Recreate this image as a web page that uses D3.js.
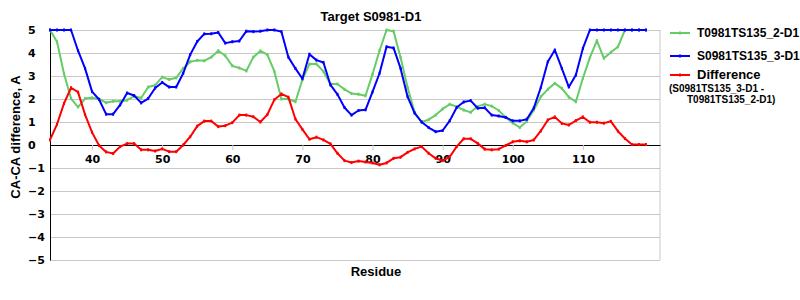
<!DOCTYPE html>
<html>
<head>
<meta charset="utf-8">
<script src="https://cdn.jsdelivr.net/npm/d3@7"></script>
<style>
  body { margin: 0; background: #fff; }
  .tick text { font-family: "DejaVu Sans", sans-serif; font-weight: bold; font-size: 11px; fill: #000; }
  .ttl { font-family: "Liberation Sans", Arial, sans-serif; font-weight: bold; fill: #000; }
</style>
</head>
<body>
<svg id="chart" width="800" height="300"></svg>
<script>
// residues 34..119
var residues = d3.range(34, 120);

var modelA = [5.0, 4.49, 3.1, 2.02, 1.65, 2.02, 2.05, 2.0, 1.84, 1.9,
  1.9, 1.95, 2.12, 2.04, 2.52, 2.6, 2.95, 2.85, 2.92, 3.33,
  3.62, 3.68, 3.66, 3.82, 4.1, 3.88, 3.44, 3.35, 3.22, 3.82,
  4.09, 3.93, 3.2, 2.0, 2.0, 1.88, 2.84, 3.52, 3.52, 3.2,
  2.65, 2.65, 2.42, 2.24, 2.21, 2.14, 3.08, 4.11, 5.0, 4.95,
  3.8, 2.5, 1.42, 1.0, 1.1, 1.3, 1.57, 1.77, 1.67, 1.52,
  1.42, 1.68, 1.77, 1.69, 1.5, 1.2, 0.96, 0.76, 1.03, 1.52,
  2.1, 2.42, 2.68, 2.46, 2.08, 1.88, 2.9, 3.8, 4.54, 3.77,
  4.03, 4.27, 5.0, 5.0, 5.0, 5.0];

var modelB = [5.0, 5.0, 5.0, 5.0, 4.1, 3.33, 2.32, 1.98, 1.34, 1.34,
  1.74, 2.26, 2.15, 1.83, 2.02, 2.48, 2.72, 2.52, 2.52, 3.12,
  3.93, 4.5, 4.83, 4.84, 4.89, 4.43, 4.49, 4.52, 4.95, 4.93,
  4.95, 5.0, 5.0, 4.93, 3.82, 3.33, 2.88, 3.95, 3.69, 3.59,
  2.61, 2.2, 1.63, 1.3, 1.5, 1.53, 2.31, 3.12, 4.27, 4.22,
  3.33, 2.1, 1.39, 1.0, 0.76, 0.58, 0.63, 1.05, 1.63, 1.87,
  1.93, 1.6, 1.62, 1.3, 1.26, 1.2, 1.05, 1.05, 1.12, 1.61,
  2.5, 3.62, 4.13, 3.33, 2.52, 3.04, 4.2, 5.0, 5.0, 5.0,
  5.0, 5.0, 5.0, 5.0, 5.0, 5.0];

var diffValues = [0.22, 0.9, 1.81, 2.49, 2.3, 1.32, 0.55, -0.02, -0.3, -0.37,
  -0.07, 0.06, 0.06, -0.21, -0.21, -0.26, -0.17, -0.29, -0.29, 0.0,
  0.36, 0.82, 1.04, 1.04, 0.8, 0.84, 0.97, 1.3, 1.3, 1.23,
  1.0, 1.32, 1.97, 2.22, 2.08, 1.13, 0.68, 0.25, 0.34, 0.22,
  0.05, -0.36, -0.68, -0.76, -0.7, -0.74, -0.78, -0.86, -0.78, -0.58,
  -0.53, -0.32, -0.17, -0.07, -0.36, -0.58, -0.68, -0.52, -0.07, 0.27,
  0.27, 0.07, -0.18, -0.21, -0.18, -0.02, 0.14, 0.18, 0.14, 0.22,
  0.61, 1.09, 1.22, 0.94, 0.87, 1.06, 1.22, 0.99, 0.99, 0.95,
  1.03, 0.6, 0.28, 0.02, 0.02, 0.02];

var xTicks = [40, 50, 60, 70, 80, 90, 100, 110];
var yTicks = [-5, -4, -3, -2, -1, 0, 1, 2, 3, 4, 5];

var seriesNames = ["T0981TS135_2-D1", "S0981TS135_3-D1", "Difference"];
var seriesColors = ["#66cc66", "#0000ff", "#ff0000"];

var plotLeft = 50, plotRight = 660, plotTop = 30, plotBottom = 260;

var x = d3.scaleLinear().domain([34, 121]).range([plotLeft, plotRight]);
var y = d3.scaleLinear().domain([-5, 5]).range([plotBottom, plotTop]);

var svg = d3.select("#chart");

// grid
var grid = svg.append("g")
    .attr("transform", "translate(" + plotLeft + ",0)")
    .call(d3.axisLeft(y).tickValues(yTicks).tickSize(-(plotRight - plotLeft)).tickFormat(""));
grid.select(".domain").remove();
grid.selectAll("line").attr("stroke", "#c8c8c8");

svg.append("line")
    .attr("x1", plotRight).attr("x2", plotRight)
    .attr("y1", plotTop).attr("y2", plotBottom)
    .attr("stroke", "#c8c8c8");

// y labels
var yAxis = svg.append("g")
    .attr("transform", "translate(" + plotLeft + ",0)")
    .call(d3.axisLeft(y).tickValues(yTicks).tickSize(0).tickSizeOuter(0));
yAxis.select(".domain").attr("stroke", "#000");
yAxis.selectAll("text")
    .attr("x", -22)
    .attr("text-anchor", "start");

// x axis on zero line
var xAxis = svg.append("g")
    .attr("transform", "translate(0," + y(0) + ")")
    .call(d3.axisBottom(x).tickValues(xTicks).tickSize(5).tickSizeOuter(0).tickPadding(5));
xAxis.select(".domain").attr("stroke", "#000");
xAxis.selectAll(".tick line").attr("stroke", "#c8c8c8");

var all = [modelA, modelB, diffValues];

var line = d3.line()
    .x(function(d, i) { return x(residues[i]); })
    .y(function(d) { return y(d); });

all.forEach(function(vals, k) {
    svg.append("path")
        .datum(vals)
        .attr("fill", "none")
        .attr("stroke", seriesColors[k])
        .attr("stroke-width", 2)
        .attr("stroke-linejoin", "round")
        .attr("d", line);

    svg.append("g").selectAll("rect")
        .data(vals)
        .enter().append("rect")
        .attr("x", function(d, i) { return x(residues[i]) - 1; })
        .attr("y", function(d) { return y(d) - 1.5; })
        .attr("width", 2)
        .attr("height", 3)
        .attr("fill", seriesColors[k]);
});

// title and axis names
svg.append("text")
    .attr("class", "ttl")
    .attr("x", 371).attr("y", 21)
    .attr("text-anchor", "middle")
    .attr("font-size", "13px")
    .text("Target S0981-D1");

svg.append("text")
    .attr("class", "ttl")
    .attr("x", 376).attr("y", 276)
    .attr("text-anchor", "middle")
    .attr("font-size", "13px")
    .text("Residue");

svg.append("text")
    .attr("class", "ttl")
    .attr("transform", "translate(20,137) rotate(-90)")
    .attr("text-anchor", "middle")
    .attr("font-size", "13px")
    .text("CA-CA difference, A");

// legend
var legendY = [33, 56, 75];
var legend = svg.selectAll(".legend")
    .data(seriesNames)
    .enter().append("g")
    .attr("class", "legend")
    .attr("transform", function(d, i) { return "translate(670," + legendY[i] + ")"; });

legend.append("line")
    .attr("x1", 0).attr("x2", 20)
    .attr("stroke", function(d, i) { return seriesColors[i]; })
    .attr("stroke-width", 2);

legend.append("rect")
    .attr("x", 9).attr("y", -1.5)
    .attr("width", 2).attr("height", 3)
    .attr("fill", function(d, i) { return seriesColors[i]; });

legend.append("text")
    .attr("class", "ttl")
    .attr("x", 27)
    .attr("y", function(d, i) { return i == 2 ? 4 : 4; })
    .attr("font-size", function(d, i) { return i == 2 ? "13px" : "12px"; })
    .text(function(d) { return d; });

svg.append("text")
    .attr("class", "ttl")
    .attr("x", 669).attr("y", 92)
    .attr("font-size", "10px")
    .text("(S0981TS135_3-D1 -");

svg.append("text")
    .attr("class", "ttl")
    .attr("x", 687).attr("y", 102.5)
    .attr("font-size", "10px")
    .text("T0981TS135_2-D1)");
</script>
</body>
</html>
